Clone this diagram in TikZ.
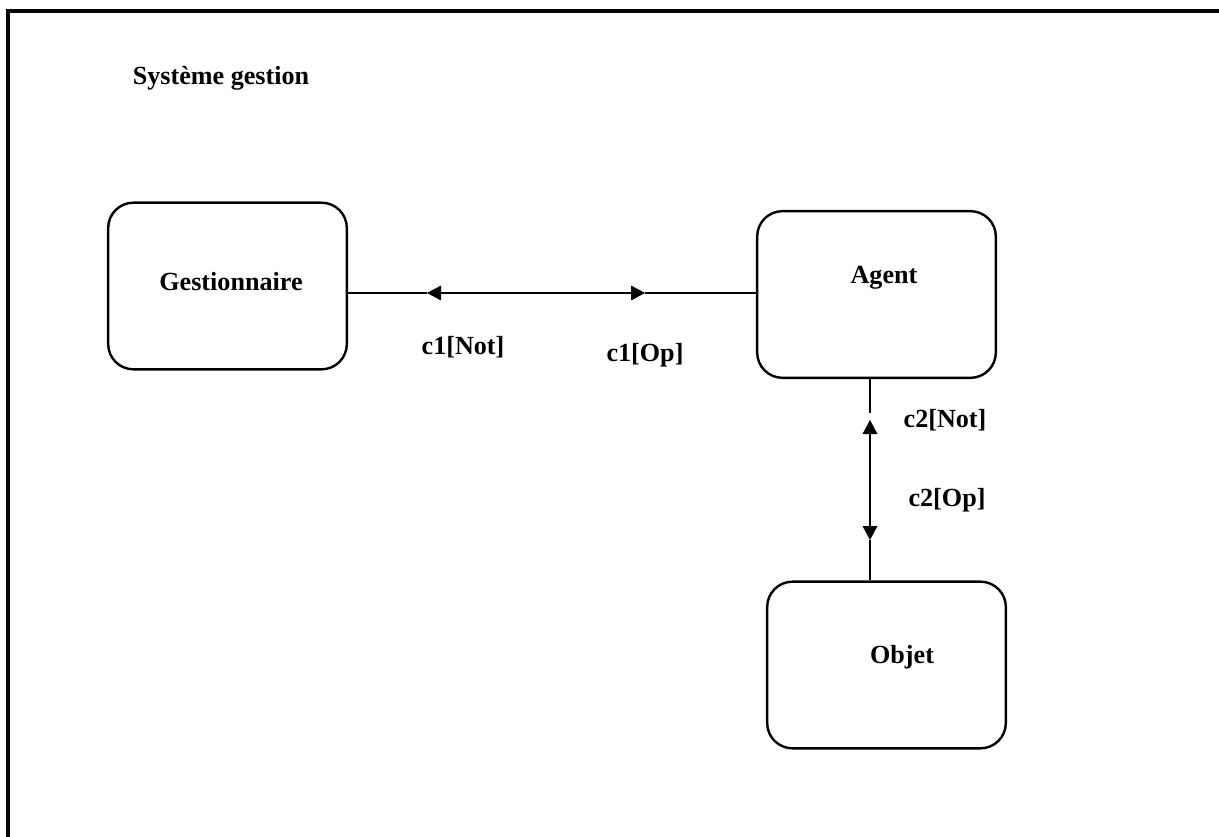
\documentclass[tikz,border=0pt]{standalone}
\usepackage{fontspec}
\setmainfont{Liberation Serif}
\usetikzlibrary{arrows.meta}
\begin{document}
\begin{tikzpicture}[x=0.75pt,y=-0.75pt,
  box/.style={draw,line width=1.8pt,rounded corners=19pt,minimum width=179pt,minimum height=125pt,inner sep=0pt},
  lbl/.style={font=\fontsize{19.6}{23}\selectfont\bfseries,inner sep=0pt},
  thick line/.style={line width=1.5pt},
  thin line/.style={line width=0.9pt},
  tip/.style={-{Triangle[length=10.5pt,width=11pt]}}]
\useasboundingbox (0,0) rectangle (1219,837);
\draw[line width=2.3pt] (8,845) -- (8,11) -- (1230,11);
\node[lbl] (title) at (221,78) {Système gestion};
\node[box] (gbox) at (227.5,286) {};
\node[box] (abox) at (876.5,294.5) {};
\node[box] (obox) at (886.5,665) {};
\node[lbl] (gtxt) at (231,282) {Gestionnaire};
\node[lbl] (atxt) at (884,278) {Agent};
\node[lbl] (otxt) at (902,657) {Objet};
% horizontal connector
\coordinate (h1) at (427,293);
\coordinate (hm) at (514,293);
\coordinate (h2) at (645,293);
\draw[thick line] (gbox.east |- h1) -- (h1);
\draw[thin line,tip] (hm) -- (h1);
\draw[thin line,tip] (hm) -- (h2);
\draw[thick line] (h2) -- (abox.west |- h2);
% vertical connector
\coordinate (v0) at (870,413);
\coordinate (v1) at (870,420);
\coordinate (vm) at (870,467);
\coordinate (v2) at (870,540);
\draw[thick line] (abox.south -| v0) -- (v0);
\draw[thin line,tip] (vm) -- (v1);
\draw[thin line,tip] (vm) -- (v2);
\draw[thick line] (v2) -- (obox.north -| v2);
\node[lbl] (l1) at (463,347) {c1[Not]};
\node[lbl] (l2) at (645,355) {c1[Op]};
\node[lbl] (l3) at (945,420) {c2[Not]};
\node[lbl] (l4) at (947,500) {c2[Op]};
\end{tikzpicture}
\end{document}
